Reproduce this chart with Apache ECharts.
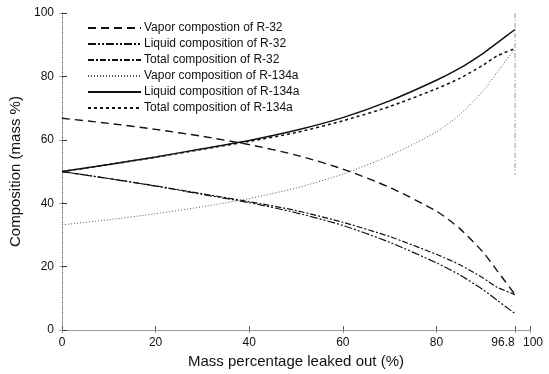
<!DOCTYPE html>
<html>
<head>
<meta charset="utf-8">
<script src="https://cdn.jsdelivr.net/npm/echarts@6/dist/echarts.min.js"></script>
<style>html,body{margin:0;padding:0;background:#fff}#c{width:549px;height:374px}</style>
</head>
<body>
<div id="c"></div>
<script>
// Mass percentage leaked out (%)
var leaked = [0, 10, 20, 30, 40, 50, 60, 70, 80, 85, 90, 93, 96.8];
var vaporR32 = [66.8, 65.2, 63.3, 61.1, 58.5, 55.2, 50.8, 45.0, 37.5, 32.0, 24.5, 18.7, 11.2];
var liquidR32 = [50.0, 47.8, 45.4, 42.8, 40.2, 37.0, 33.0, 27.7, 21.2, 17.4, 12.7, 9.4, 5.2];
var totalR32 = [50.0, 47.8, 45.5, 43.0, 40.5, 37.7, 34.0, 29.5, 23.9, 20.6, 16.4, 13.5, 11.2];
var vaporR134a = [33.2, 34.8, 36.7, 38.9, 41.5, 44.8, 49.2, 55.0, 62.5, 68.0, 75.5, 81.3, 88.8];
var liquidR134a = [50.0, 52.2, 54.6, 57.2, 59.8, 63.0, 67.0, 72.3, 78.8, 82.6, 87.3, 90.6, 94.8];
var totalR134a = [50.0, 52.2, 54.5, 57.0, 59.5, 62.3, 66.0, 70.5, 76.1, 79.4, 83.6, 86.5, 88.8];
var xTicks = [0, 20, 40, 60, 80, 96.8, 100];
var yTicks = [0, 20, 40, 60, 80, 100];
var endLine = [[96.8, 100], [96.8, 49]];
var names = ['Vapor compostion of R-32', 'Liquid composition of R-32', 'Total composition of R-32',
             'Vapor composition of R-134a', 'Liquid composition of R-134a', 'Total composition of R-134a'];

function pairs(ys) { return leaked.map(function (x, i) { return [x, ys[i]]; }); }

var styles = [
  { color: '#111', width: 1.4, type: [8, 5] },
  { color: '#111', width: 1.2, type: [8, 2, 2, 2, 2, 2] },
  { color: '#111', width: 1.2, type: [6, 2, 2, 2] },
  { color: '#555', width: 1, type: [1, 2] },
  { color: '#111', width: 1.5, type: 'solid' },
  { color: '#111', width: 1.5, type: [3, 3] }
];
var seriesData = [vaporR32, liquidR32, totalR32, vaporR134a, liquidR134a, totalR134a];
var series = seriesData.map(function (d, i) {
  return {
    name: names[i], type: 'line', data: pairs(d), symbol: 'none', smooth: 0.25,
    lineStyle: styles[i], itemStyle: { color: styles[i].color }, z: 3
  };
});
series.push({
  name: 'end', type: 'line', data: endLine, symbol: 'none', silent: true,
  lineStyle: { color: '#999', width: 1, type: [5, 2, 1, 2] }, z: 1
});

var font = 'Liberation Sans, Arial, Helvetica, sans-serif';
var chart = echarts.init(document.getElementById('c'), null, { renderer: 'canvas' });
chart.setOption({
  animation: false,
  backgroundColor: '#fff',
  textStyle: { fontFamily: font },
  grid: { left: 62, right: 19, top: 13, bottom: 39, containLabel: false },
  legend: {
    data: names, orient: 'vertical', left: 87, top: 22, padding: 0, itemWidth: 53, itemHeight: 10, itemGap: 4,
    itemStyle: { opacity: 0 },
    textStyle: { fontFamily: font, fontSize: 12, color: '#111', padding: [0, 0, 0, -2] }
  },
  xAxis: [{
    type: 'value', min: 0, max: 100, position: 'bottom',
    name: 'Mass percentage leaked out (%)', nameLocation: 'middle', nameGap: 22,
    nameTextStyle: { fontFamily: font, fontSize: 15, color: '#111' },
    axisLine: { lineStyle: { color: '#777', type: [3, 2], width: 1 } },
    axisTick: { inside: true, length: 4, customValues: xTicks, lineStyle: { color: '#555' } },
    axisLabel: { customValues: xTicks, margin: 7, fontSize: 12, color: '#111', fontFamily: font,
      hideOverlap: false, showMaxLabel: true, showMinLabel: true,
      formatter: function (v) {
        if (v === 96.8) return '{l|96.8}';
        if (v === 100) return '{r|100}';
        return String(v);
      },
      rich: {
        l: { fontSize: 12, fontFamily: font, color: '#111', padding: [0, 24, 0, 0] },
        r: { fontSize: 12, fontFamily: font, color: '#111', padding: [0, 0, 0, 6] }
      }
    },
    splitLine: { show: false }
  }, {
    type: 'value', min: 0, max: 100, position: 'top',
    axisLine: { show: true, lineStyle: { color: '#999', width: 1 } },
    axisTick: { inside: true, length: 3, customValues: xTicks, lineStyle: { color: '#999' } },
    axisLabel: { show: false }, splitLine: { show: false }
  }],
  yAxis: [{
    type: 'value', min: 0, max: 100, interval: 20, position: 'left',
    name: 'Composition (mass %)', nameLocation: 'middle', nameGap: 36,
    nameTextStyle: { fontFamily: font, fontSize: 15, color: '#111' },
    axisLine: { show: true, lineStyle: { color: '#333', type: [3, 2], width: 1 } },
    axisTick: { inside: true, length: 5, lineStyle: { color: '#333' } },
    axisLabel: { margin: 8, fontSize: 12, color: '#111', fontFamily: font },
    splitLine: { show: false }
  }, {
    type: 'value', min: 0, max: 100, interval: 20, position: 'right',
    axisLine: { show: true, lineStyle: { color: '#aaa', type: [2, 3], width: 1 } },
    axisTick: { inside: true, length: 3, lineStyle: { color: '#aaa' } },
    axisLabel: { show: false }, splitLine: { show: false }
  }],
  series: series
});
</script>
</body>
</html>
